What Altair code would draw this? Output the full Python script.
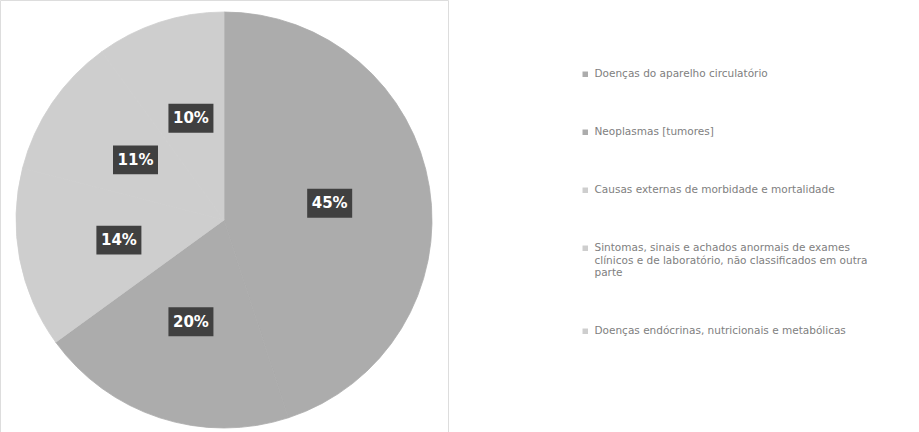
import altair as alt
import pandas as pd

categories = [
    "Doenças do aparelho circulatório",
    "Neoplasmas [tumores]",
    "Causas externas de morbidade e mortalidade",
    "Sintomas, sinais e achados anormais de exames\nclínicos e de laboratório, não classificados em outra\nparte",
    "Doenças endócrinas, nutricionais e metabólicas",
]
values = [45, 20, 14, 11, 10]
colors = ["#acacac", "#acacac", "#cecece", "#cecece", "#cecece"]

df = pd.DataFrame({"categoria": categories, "valor": values, "ordem": list(range(len(values)))})

color_scale = alt.Scale(domain=categories, range=colors)

pie = alt.Chart(df).mark_arc(outerRadius=208, strokeWidth=0.8).encode(
    theta=alt.Theta("valor:Q", stack=True),
    order=alt.Order("ordem:Q"),
    stroke=alt.Stroke("categoria:N", scale=color_scale, sort=categories, legend=None),
    color=alt.Color(
        "categoria:N",
        scale=color_scale,
        sort=categories,
        legend=alt.Legend(
            title=None,
            orient="none",
            legendX=580,
            legendY=69,
            symbolType="square",
            symbolSize=30,
            symbolStrokeWidth=0,
            labelOffset=4,
            labelFont="DejaVu Sans",
            labelFontSize=10.5,
            labelColor="#808080",
            labelLimit=400,
            rowPadding=47,
            labelExpr="split(datum.label, '\\n')",
        ),
    ),
)

base = alt.Chart(df).transform_joinaggregate(
    total="sum(valor)"
).transform_window(
    cum="sum(valor)", sort=[alt.SortField("ordem")]
).transform_calculate(
    ang="(datum.cum - datum.valor / 2) / datum.total * 2 * PI",
    px="107 * sin(datum.ang)",
    py="107 * cos(datum.ang)",
    rotulo="format(datum.valor / datum.total, '.0%')",
)

xs = alt.X("px:Q", scale=alt.Scale(domain=[-224, 224]), axis=None)
ys = alt.Y("py:Q", scale=alt.Scale(domain=[-220, 220]), axis=None)

boxes = base.mark_point(
    shape="M-1,-0.64L1,-0.64L1,0.64L-1,0.64Z",
    size=2025,
    filled=True,
    color="#404040",
    opacity=1,
).encode(x=xs, y=ys)

labels = base.mark_text(
    color="#ffffff",
    font="DejaVu Sans",
    fontWeight="bold",
    fontSize=15,
).encode(x=xs, y=ys, text="rotulo:N")

chart = alt.layer(pie, boxes, labels).properties(
    width=448,
    height=440,
    padding={"left": 0, "top": 0, "right": 471, "bottom": 0},
    autosize=alt.AutoSizeParams(type="none"),
).configure_view(stroke=None).configure(background="#ffffff")

chart.save("out.html", embed_options={"renderer": "svg", "actions": False})
